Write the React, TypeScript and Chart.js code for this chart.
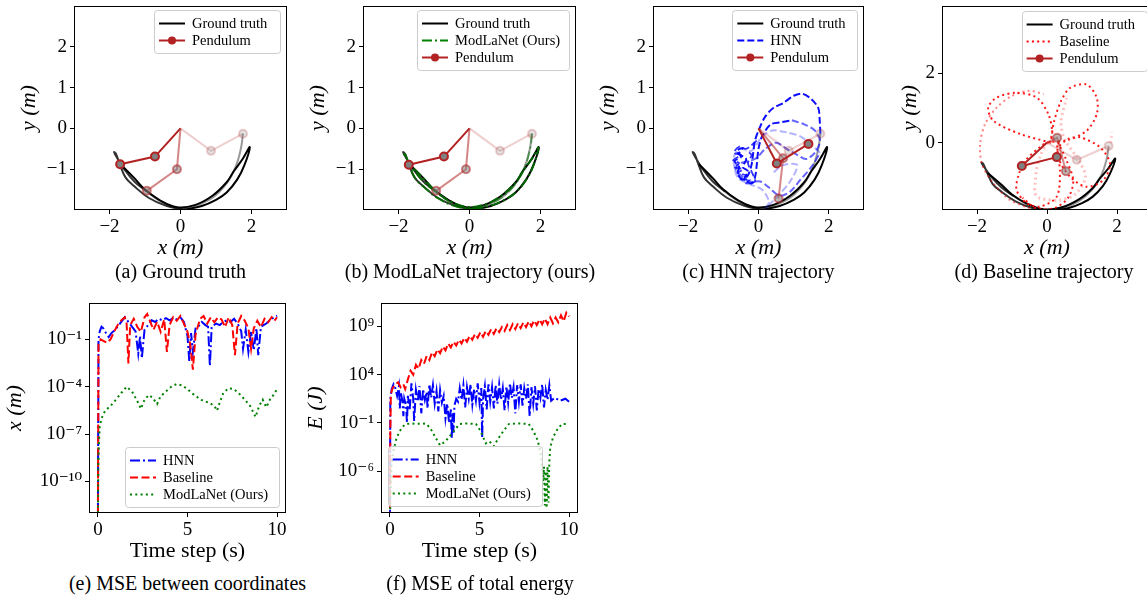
import React, { useEffect, useRef } from 'react';
import { Chart, registerables } from 'chart.js';
Chart.register(...registerables);

type P = [number, number];

// ---------------- Trajectory data (metres) ----------------
const gtTrajLight: P[] = [[1.76,-0.13],[1.7,-0.5],[1.55,-0.95],[1.3,-1.35],[0.9,-1.7],[0.4,-1.9],[-0.1,-1.95],[-0.55,-1.8],[-0.95,-1.55]];
const gtTrajMid: P[] = [[-0.95,-1.55],[-1.3,-1.3],[-1.6,-0.98],[-1.8,-0.7],[-1.87,-0.58],[-1.82,-0.62],[-1.72,-0.85],[-1.55,-1.2],[-1.3,-1.42],[-0.9,-1.7],[-0.4,-1.9],[0.1,-1.99]];
const gtTrajDark: P[] = [[0.1,-1.99],[0.6,-1.9],[1.0,-1.75],[1.3,-1.57],[1.6,-1.25],[1.8,-0.9],[1.95,-0.46],[1.75,-0.75],[1.5,-1.05],[1.3,-1.32],[0.9,-1.65],[0.4,-1.88],[-0.1,-1.93],[-0.6,-1.75],[-1.0,-1.5],[-1.3,-1.22],[-1.55,-1.0],[-1.7,-0.88]];

const modlaTrajLight: P[] = [[1.76,-0.13],[1.71,-0.49],[1.56,-0.94],[1.31,-1.34],[0.91,-1.69],[0.41,-1.9],[-0.09,-1.95],[-0.54,-1.81],[-0.94,-1.56]];
const modlaTrajMid: P[] = [[-0.94,-1.56],[-1.29,-1.31],[-1.59,-0.99],[-1.79,-0.71],[-1.86,-0.59],[-1.81,-0.63],[-1.71,-0.86],[-1.54,-1.21],[-1.29,-1.43],[-0.89,-1.71],[-0.39,-1.91],[0.11,-1.98]];
const modlaTrajDark: P[] = [[0.11,-1.98],[0.61,-1.89],[1.01,-1.74],[1.31,-1.56],[1.61,-1.24],[1.81,-0.89],[1.94,-0.47],[1.76,-0.74],[1.51,-1.04],[1.31,-1.31],[0.91,-1.64],[0.41,-1.87],[-0.09,-1.92],[-0.59,-1.76],[-0.99,-1.51],[-1.29,-1.23],[-1.54,-1.01],[-1.71,-0.89]];

const hnnTrajDark: P[] = [[1.76,-0.13],[1.74,0.2],[1.7,0.5],[1.5,0.72],[1.25,0.85],[1.0,0.8],[0.7,0.62],[0.42,0.5],[0.2,0.3],[0.05,0.05],[-0.1,-0.3],[-0.15,-0.6],[-0.2,-0.9],[-0.3,-1.15],[-0.45,-1.25],[-0.6,-1.1],[-0.55,-0.95],[-0.68,-0.8],[-0.5,-0.7],[-0.62,-0.55],[-0.45,-0.48],[-0.55,-0.62],[-0.35,-0.75],[-0.45,-0.95],[-0.3,-1.05],[-0.4,-1.25],[-0.2,-1.35],[-0.1,-1.2],[-0.05,-0.9],[0.0,-0.5],[0.1,-0.2],[0.35,0.1],[0.65,0.15],[0.95,0.2]];
const hnnTrajTangle: P[] = [[-0.05,-0.3],[-0.35,-0.5],[-0.55,-0.45],[-0.7,-0.6],[-0.5,-0.65],[-0.72,-0.78],[-0.55,-0.85],[-0.7,-0.95],[-0.45,-1.0],[-0.6,-1.1],[-0.35,-1.15],[-0.5,-1.25],[-0.25,-1.25],[-0.35,-1.35],[-0.1,-1.3],[-0.2,-1.05],[-0.3,-0.85],[-0.2,-0.65],[-0.35,-0.55]];
const hnnTrajMid: P[] = [[0.95,0.2],[1.3,0.1],[1.6,-0.05],[1.75,-0.3],[1.6,-0.6],[1.35,-0.75],[1.1,-0.65],[0.8,-0.5],[0.5,-0.35],[0.2,-0.5],[-0.1,-0.75],[-0.5,-0.85],[-0.65,-1.0],[-0.5,-1.15],[-0.25,-1.3],[0.05,-1.3],[0.3,-1.45],[0.6,-1.65],[0.9,-1.55],[1.2,-1.25],[1.5,-0.95],[1.75,-0.6]];
const hnnTrajLight: P[] = [[1.75,-0.6],[1.5,-0.4],[1.2,-0.2],[0.8,-0.1],[0.4,-0.05],[0.1,-0.2],[-0.2,-0.55],[-0.5,-0.5],[-0.7,-0.7],[-0.6,-1.2],[-0.3,-1.35],[0.1,-1.5],[0.3,-1.8],[0.2,-1.95],[0.5,-1.7],[0.9,-1.3],[1.1,-0.9],[0.7,-0.9],[0.4,-1.1]];

const baseTrajDark: P[] = [[0.1,0.0],[-0.77,0.25],[-1.53,0.63],[-1.68,1.01],[-1.44,1.3],[-0.87,1.44],[-0.29,1.3],[0.04,0.82],[0.15,0.3],[0.1,0.0],[0.2,0.6],[0.4,1.2],[0.66,1.58],[1.13,1.68],[1.42,1.3],[1.42,0.82],[1.13,0.34],[0.56,0.06],[0.0,0.0],[-0.2,-0.13],[-0.6,-0.5],[-0.8,-0.9],[-0.87,-1.37],[-0.58,-1.75],[-0.2,-1.85],[0.28,-1.56],[0.37,-0.8],[0.3,-0.2],[0.6,0.1],[0.94,0.15],[1.51,-0.13],[1.8,-0.61],[1.61,-1.08],[1.13,-1.28],[0.66,-0.99],[0.35,-0.5],[0.3,0.0],[0.55,-0.5],[0.75,-1.1],[0.6,-1.6],[0.2,-1.9],[-0.3,-1.9],[-0.7,-1.6]];
const baseTrajMid: P[] = [[-0.49,-1.9],[-1.06,-1.66],[-1.53,-1.18],[-1.85,-0.65],[-1.91,-0.04],[-1.77,0.53],[-1.44,1.01],[-1.0,1.35],[-0.5,1.5],[-0.1,1.4]];
const baseTrajLight: P[] = [[0.0,0.0],[-0.2,-0.4],[-0.3,-0.8],[-0.34,-1.2],[-0.34,-1.47],[-0.2,-1.61],[0.37,-1.66],[0.8,-1.5],[1.1,-1.0],[0.9,-0.5],[0.5,0.1],[0.4,0.6],[0.56,1.29]];
const baseTrajFaint: P[] = [[1.7,-0.3],[1.82,0.0],[1.85,0.3]];

// Pendulum snapshots: pivot, bob 1, bob 2
const pendGtDark: P[] = [[0,0],[-0.72,-0.69],[-1.7,-0.88]];
const pendGtMid: P[] = [[0,0],[-0.1,-1.0],[-0.95,-1.53]];
const pendGtLight: P[] = [[0,0],[0.86,-0.55],[1.76,-0.13]];
const pendModlaDark: P[] = [[0,0],[-0.72,-0.69],[-1.71,-0.89]];
const pendModlaMid: P[] = [[0,0],[-0.1,-1.0],[-0.94,-1.53]];
const pendModlaLight: P[] = [[0,0],[0.86,-0.55],[1.76,-0.13]];
const pendHnnDark: P[] = [[0,0],[0.52,-0.86],[1.42,-0.38]];
const pendHnnMid: P[] = [[0,0],[0.7,-0.73],[0.57,-1.72]];
const pendHnnLight: P[] = [[0,0],[0.86,-0.55],[1.76,-0.13]];
const pendBaseDark: P[] = [[0,0],[-0.72,-0.68],[0.28,-0.42]];
const pendBaseMid: P[] = [[0,0],[0.29,0.14],[0.54,-0.83]];
const pendBaseLight: P[] = [[0,0],[0.85,-0.5],[1.76,-0.1]];

// ---------------- MSE data: [time (s), value] ----------------
const coordMseHnn: P[] = [[0,1e-12],[0.03,0.1],[0.1,0.32],[0.2,0.63],[0.3,0.5],[0.45,0.25],[0.6,0.14],[0.75,0.25],[0.9,0.35],[1.1,0.63],[1.3,1.26],[1.5,2.5],[1.7,1.26],[1.9,0.63],[2.1,0.32],[2.25,0.0126],[2.35,0.16],[2.45,0.0063],[2.6,0.4],[2.8,0.8],[3.0,1.6],[3.2,1.26],[3.4,2.0],[3.6,1.6],[3.8,2.2],[4.0,1.6],[4.2,2.2],[4.4,1.8],[4.6,2.5],[4.8,1.26],[5.0,0.16],[5.1,0.004],[5.2,0.25],[5.3,0.016],[5.45,0.5],[5.6,0.63],[5.8,1.26],[6.0,0.8],[6.15,0.63],[6.25,0.002],[6.35,0.63],[6.6,1.0],[6.8,0.8],[7.0,1.26],[7.2,1.6],[7.4,1.26],[7.6,2.0],[7.8,1.0],[8.0,0.32],[8.1,0.025],[8.25,0.4],[8.4,0.016],[8.55,0.32],[8.7,0.02],[8.85,0.5],[8.95,0.01],[9.1,0.63],[9.4,1.0],[9.7,2.0],[10.0,3.2]];
const coordMseBase: P[] = [[0,1e-12],[0.03,0.05],[0.15,0.1],[0.3,0.08],[0.5,0.06],[0.7,0.1],[0.9,0.3],[1.1,0.8],[1.3,1.6],[1.5,2.5],[1.6,1.0],[1.7,0.003],[1.8,0.8],[2.0,2.0],[2.2,0.6],[2.4,0.3],[2.6,2.5],[2.75,4.0],[2.9,1.5],[3.1,0.4],[3.3,1.3],[3.5,0.3],[3.7,1.8],[3.85,0.016],[4.0,0.8],[4.2,2.5],[4.4,1.5],[4.6,3.0],[4.8,1.0],[5.0,0.3],[5.15,0.05],[5.3,0.0012],[5.45,0.2],[5.7,2.0],[5.9,3.0],[6.1,1.0],[6.3,2.5],[6.5,1.2],[6.7,2.5],[6.9,1.8],[7.1,0.6],[7.3,2.5],[7.5,0.8],[7.65,0.01],[7.8,1.0],[8.0,3.0],[8.2,1.5],[8.4,0.5],[8.55,0.025],[8.7,0.5],[8.9,1.5],[9.1,0.6],[9.3,2.0],[9.5,1.2],[9.7,2.5],[9.85,1.5],[10.0,2.5]];
const coordMseModla: P[] = [[0,1e-12],[0.02,1e-9],[0.05,2e-8],[0.1,3e-7],[0.2,1e-6],[0.4,3e-6],[0.7,6e-6],[1.0,1.5e-5],[1.3,4e-5],[1.6,1e-4],[1.9,5e-5],[2.2,1.2e-5],[2.4,4e-6],[2.6,1.5e-5],[2.85,3e-5],[3.05,2e-5],[3.3,8e-6],[3.5,2.5e-5],[3.8,5e-5],[4.1,1e-4],[4.4,1.5e-4],[4.7,1.2e-4],[5.0,7e-5],[5.3,3.5e-5],[5.6,2e-5],[5.9,1.2e-5],[6.2,1e-5],[6.5,6e-6],[6.65,3e-6],[6.8,1e-5],[7.0,4e-5],[7.3,8e-5],[7.6,7e-5],[7.9,3.5e-5],[8.2,1.5e-5],[8.5,6e-6],[8.8,1.2e-6],[9.0,6e-6],[9.2,1.5e-5],[9.4,5e-6],[9.6,1.5e-5],[9.8,3e-5],[10.0,7e-5]];

const energyMseHnn: P[] = [[0,1e-11],[0.02,32],[0.1,320],[0.2,1000],[0.3,400],[0.4,63],[0.5,630],[0.55,3.2],[0.6,160],[0.7,16],[0.75,0.5],[0.8,32],[0.9,6.3],[0.95,0.1],[1.0,63],[1.1,2],[1.2,1260],[1.3,32],[1.35,0.16],[1.45,250],[1.55,16],[1.65,630],[1.75,1],[1.85,320],[1.95,25],[2.05,160],[2.1,3.2],[2.2,1000],[2.3,40],[2.4,800],[2.5,10],[2.6,200],[2.7,1.6],[2.8,250],[2.9,12.6],[3.0,63],[3.1,0.32],[3.2,10],[3.3,0.1],[3.4,2.5],[3.45,0.003],[3.5,1],[3.55,0.01],[3.6,6.3],[3.7,32],[3.8,16],[3.9,400],[4.0,25],[4.1,800],[4.2,4],[4.3,500],[4.4,32],[4.5,1000],[4.6,8],[4.7,320],[4.8,20],[4.9,1260],[5.0,12.6],[5.1,400],[5.15,0.003],[5.2,32],[5.3,630],[5.4,2.5],[5.5,1000],[5.6,16],[5.7,500],[5.8,3.2],[5.9,800],[6.0,10],[6.1,1000],[6.2,25],[6.3,400],[6.4,2],[6.5,630],[6.6,12.6],[6.7,1260],[6.8,40],[6.9,500],[7.0,1],[7.1,800],[7.2,16],[7.3,1000],[7.4,6.3],[7.5,400],[7.6,32],[7.7,1000],[7.8,0.5],[7.9,500],[8.0,10],[8.1,630],[8.2,2],[8.3,320],[8.4,40],[8.5,1000],[8.6,4],[8.7,250],[8.8,25],[8.9,800],[9.0,20],[9.2,40],[9.5,20],[9.8,32],[10.0,16]];
const energyMseBase: P[] = [[0,1e-11],[0.02,0.01],[0.05,100],[0.15,400],[0.3,1000],[0.45,1600],[0.6,500],[0.75,1000],[0.85,320],[1.0,3200],[1.15,2.5e4],[1.3,1e4],[1.45,1e5],[1.6,4e4],[1.75,3.2e5],[1.9,1.3e5],[2.05,8e5],[2.2,3.2e5],[2.35,2e6],[2.5,8e5],[2.65,4e6],[2.8,1.6e6],[2.95,8e6],[3.1,3.2e6],[3.25,1.6e7],[3.4,6.3e6],[3.55,2.5e7],[3.7,1e7],[3.85,4e7],[4.0,1.6e7],[4.15,6.3e7],[4.3,2.5e7],[4.45,1e8],[4.6,4e7],[4.75,1.6e8],[4.9,6.3e7],[5.05,2.5e8],[5.2,8e7],[5.35,3.2e8],[5.5,1.3e8],[5.65,5e8],[5.8,1.6e8],[5.95,6.3e8],[6.1,2.5e8],[6.25,8e8],[6.4,3.2e8],[6.55,1.3e9],[6.7,4e8],[6.85,1.6e9],[7.0,5e8],[7.15,2e9],[7.3,6.3e8],[7.45,2.5e9],[7.6,8e8],[7.75,3.2e9],[7.9,1e9],[8.05,4e9],[8.2,1.3e9],[8.35,5e9],[8.5,1.6e9],[8.65,6.3e9],[8.8,1.6e9],[8.95,8e9],[9.1,2e9],[9.25,8e9],[9.4,2.5e9],[9.55,1.3e10],[9.7,3.2e9],[9.85,2.5e10],[10.0,1e10]];
const energyMseModla: P[] = [[0,1e-11],[0.05,1e-7],[0.1,1e-5],[0.2,1.6e-4],[0.35,2e-3],[0.5,0.01],[0.7,0.04],[0.9,0.08],[1.2,0.09],[1.5,0.08],[1.8,0.09],[2.05,0.08],[2.3,0.02],[2.55,3e-3],[2.8,5e-4],[3.1,1.3e-3],[3.4,6e-3],[3.7,0.03],[3.9,0.08],[4.3,0.09],[4.8,0.08],[5.05,0.016],[5.35,8e-4],[5.55,1.3e-3],[5.8,4e-4],[6.05,2.5e-3],[6.35,0.016],[6.65,0.08],[7.2,0.09],[7.75,0.08],[8.0,0.016],[8.25,1.6e-3],[8.45,3e-5],[8.55,1e-7],[8.6,3e-6],[8.65,3e-10],[8.7,1e-6],[8.75,1.6e-10],[8.8,3e-6],[8.85,6e-10],[8.9,1e-5],[8.95,3e-4],[9.1,3e-3],[9.3,0.016],[9.6,0.08],[10.0,0.08]];

// ---------------- Ticks & labels ----------------
const trajXTicks = [-2, 0, 2];
const trajYTicks = [-1, 0, 1, 2];
const baseYTicks = [0, 2];
const timeTicks = [0, 5, 10];
const coordMseTicks = [1e-10, 1e-7, 1e-4, 1e-1];
const energyMseTicks = [1e-6, 1e-1, 1e4, 1e9];
const captions = ['(a) Ground truth', '(b) ModLaNet trajectory (ours)', '(c) HNN trajectory', '(d) Baseline trajectory', '(e) MSE between coordinates', '(f) MSE of total energy'];

// ---------------- Styling helpers ----------------
const SERIF = '"Liberation Serif", "DejaVu Serif", serif';
const RED_P = (a: number) => `rgba(178,34,34,${a})`;
const SUP: Record<string, string> = { '-': '⁻', '0': '⁰', '1': '¹', '2': '²', '3': '³', '4': '⁴', '5': '⁵', '6': '⁶', '7': '⁷', '8': '⁸', '9': '⁹' };
const powLabel = (v: number) => '10' + String(Math.round(Math.log10(v))).split('').map((c) => SUP[c]).join('');
const numLabel = (v: number) => (v < 0 ? '−' + Math.abs(v) : String(v));

const DASH = { solid: [] as number[], dashed: [7, 3], dashdot: [10, 3, 2, 3], dotted: [2, 3.3], dashedLong: [8, 3.5] };

function line(points: P[], color: string, width: number, dash: number[], tension = 0.4): any {
  return {
    data: points.map(([x, y]) => ({ x, y })),
    showLine: true, borderColor: color, backgroundColor: color, borderWidth: width,
    borderDash: dash, pointRadius: 0, tension, fill: false, clip: 0,
  };
}
function pendulum(points: P[], alpha: number): any {
  return {
    data: points.map(([x, y]) => ({ x, y })),
    showLine: true, borderColor: RED_P(alpha), borderWidth: 2, tension: 0,
    pointRadius: [0, 4, 4], pointBackgroundColor: `rgba(128,128,128,${alpha})`,
    pointBorderColor: RED_P(alpha), pointBorderWidth: 2,
  };
}

type LegItem = { label: string; color: string; dash: number[]; width: number; marker?: boolean };
type LegSpec = { items: LegItem[]; width: number; corner: 'tr' | 'br' | 'bl'; dx: number; dy: number };

function legendPlugin(spec: LegSpec) {
  return {
    id: 'mplLegend',
    afterDraw(chart: any) {
      const { ctx, chartArea: a } = chart;
      const rowH = 17, pad = 13;
      const h = pad * 2 + rowH * (spec.items.length - 1);
      const w = spec.width;
      const x = spec.corner === 'bl' ? a.left + spec.dx : a.right - spec.dx - w;
      const y = spec.corner === 'tr' ? a.top + spec.dy : a.bottom - spec.dy - h;
      ctx.save();
      ctx.beginPath();
      ctx.roundRect(Math.round(x) + 0.5, Math.round(y) + 0.5, Math.round(w), Math.round(h), 3);
      ctx.fillStyle = 'rgba(255,255,255,0.8)';
      ctx.fill();
      ctx.strokeStyle = '#cccccc';
      ctx.lineWidth = 1;
      ctx.stroke();
      spec.items.forEach((it, i) => {
        const cy = Math.round(y + pad + i * rowH) + 0.5;
        ctx.beginPath();
        ctx.setLineDash(it.dash);
        ctx.strokeStyle = it.color;
        ctx.lineWidth = it.width;
        ctx.moveTo(x + 5, cy);
        ctx.lineTo(x + 31, cy);
        ctx.stroke();
        ctx.setLineDash([]);
        if (it.marker) {
          ctx.beginPath();
          ctx.arc(x + 18, cy, 4, 0, Math.PI * 2);
          ctx.fillStyle = it.color;
          ctx.fill();
        }
        ctx.fillStyle = '#000';
        ctx.font = `14.5px ${SERIF}`;
        ctx.textBaseline = 'middle';
        ctx.textAlign = 'left';
        ctx.fillText(it.label, x + 38, cy + 0.5);
      });
      ctx.restore();
    },
  };
}

const framePlugin = {
  id: 'frame',
  afterDraw(chart: any) {
    const { ctx, chartArea: a } = chart;
    ctx.save();
    ctx.strokeStyle = '#000';
    ctx.lineWidth = 1;
    const l = Math.round(a.left) + 0.5, t = Math.round(a.top) + 0.5;
    ctx.strokeRect(l, t, Math.round(a.right) - Math.round(a.left) - 1, Math.round(a.bottom) - Math.round(a.top) - 1);
    ctx.restore();
  },
};

function axis(dir: 'x' | 'y', opts: { type: string; min: number; max: number; ticks: number[]; fmt: (v: number) => string; title: string; italic: boolean; size: number; titlePad: number }): any {
  return {
    type: opts.type,
    position: dir === 'x' ? 'bottom' : 'left',
    min: opts.min,
    max: opts.max,
    afterBuildTicks: (s: any) => { s.ticks = opts.ticks.map((v) => ({ value: v })); },
    afterFit: dir === 'y'
      ? (s: any) => { s.width = opts.size; s.paddingTop = 0; s.paddingBottom = 0; }
      : (s: any) => { s.height = opts.size; s.paddingLeft = 0; s.paddingRight = 0; },
    grid: { display: true, drawOnChartArea: false, drawTicks: true, tickLength: 4, color: '#000', lineWidth: 1 },
    border: { display: false },
    ticks: {
      autoSkip: false, maxRotation: 0, minRotation: 0, color: '#000',
      padding: dir === 'y' ? 3 : 2,
      font: { family: SERIF, size: 19 },
      callback: (v: any) => opts.fmt(Number(v)),
    },
    title: {
      display: true, text: opts.title, color: '#000',
      font: { family: SERIF, size: 22, style: opts.italic ? 'italic' : 'normal' },
      padding: dir === 'y' ? { top: opts.titlePad, bottom: 0 } : { top: 0, bottom: opts.titlePad },
    },
  };
}

type PanelSpec = { left: number; top: number; w: number; h: number; config: any };

function panel(plotLeft: number, plotTop: number, plotW: number, plotH: number, yw: number, xh: number, padTop: number, padRight: number,
  datasetsBottomToTop: any[], scales: any, leg: LegSpec): PanelSpec {
  const w = Math.round(yw + plotW + padRight);
  const h = Math.round(padTop + plotH + xh);
  const datasets = datasetsBottomToTop.map((d, i) => ({ ...d, order: datasetsBottomToTop.length - i }));
  return {
    left: plotLeft - yw, top: plotTop - padTop, w, h,
    config: {
      type: 'scatter',
      data: { datasets },
      options: {
        animation: false, responsive: false, maintainAspectRatio: false, events: [],
        layout: { padding: { top: padTop, right: padRight, left: 0, bottom: 0 } },
        plugins: { legend: { display: false }, tooltip: { enabled: false } },
        scales,
      },
      plugins: [legendPlugin(leg), framePlugin],
    },
  };
}

const TOP = { yw: 70, xh: 54, padTop: 3, padRight: 14, plotTop: 3, plotH: 207 };
const BOT = { yw: 88, xh: 54, padTop: 10, padRight: 14, plotTop: 303, plotH: 210 };

function trajScales(yMin: number, yMax: number, yTicks: number[], yTitlePad: number) {
  return {
    x: axis('x', { type: 'linear', min: -3, max: 3, ticks: trajXTicks, fmt: numLabel, title: 'x (m)', italic: true, size: TOP.xh, titlePad: 2.8 }),
    y: axis('y', { type: 'linear', min: yMin, max: yMax, ticks: yTicks, fmt: numLabel, title: 'y (m)', italic: true, size: TOP.yw, titlePad: yTitlePad }),
  };
}

const gtLeg: LegItem = { label: 'Ground truth', color: '#000', dash: DASH.solid, width: 2 };
const pendLeg: LegItem = { label: 'Pendulum', color: RED_P(1), dash: DASH.solid, width: 2, marker: true };

const gtSets = () => [
  line(gtTrajLight, 'rgba(0,0,0,0.4)', 2, DASH.solid),
  line(gtTrajMid, 'rgba(0,0,0,0.8)', 2, DASH.solid),
  line(gtTrajDark, 'rgba(0,0,0,1)', 2, DASH.solid),
];

const panels: PanelSpec[] = [
  panel(74.3, TOP.plotTop, 212.5, TOP.plotH, TOP.yw, TOP.xh, TOP.padTop, TOP.padRight,
    [...gtSets(), pendulum(pendGtLight, 0.22), pendulum(pendGtMid, 0.55), pendulum(pendGtDark, 1)],
    trajScales(-2, 3, trajYTicks, 11.8),
    { items: [gtLeg, pendLeg], width: 126, corner: 'tr', dx: 7, dy: 4 }),
  panel(362.8, TOP.plotTop, 213, TOP.plotH, TOP.yw, TOP.xh, TOP.padTop, TOP.padRight,
    [...gtSets(),
      line(modlaTrajLight, 'rgba(0,128,0,0.5)', 2, DASH.dashdot),
      line(modlaTrajMid, 'rgba(0,110,0,0.9)', 2, DASH.dashdot),
      line(modlaTrajDark, 'rgba(0,100,0,1)', 2, DASH.dashdot),
      pendulum(pendModlaLight, 0.22), pendulum(pendModlaMid, 0.55), pendulum(pendModlaDark, 1)],
    trajScales(-2, 3, trajYTicks, 11.8),
    { items: [gtLeg, { label: 'ModLaNet (Ours)', color: '#008000', dash: DASH.dashdot, width: 2 }, pendLeg], width: 152, corner: 'tr', dx: 7, dy: 4 }),
  panel(652.8, TOP.plotTop, 211.2, TOP.plotH, TOP.yw, TOP.xh, TOP.padTop, TOP.padRight,
    [...gtSets(),
      line(hnnTrajLight, 'rgba(0,0,255,0.3)', 2, DASH.dashed, 0.3),
      line(hnnTrajMid, 'rgba(0,0,255,0.6)', 2, DASH.dashed, 0.3),
      line(hnnTrajTangle, 'rgba(0,0,255,0.8)', 1.8, DASH.dashed, 0.3),
      line(hnnTrajDark, 'rgba(0,0,255,0.95)', 2, DASH.dashed, 0.3),
      pendulum(pendHnnLight, 0.22), pendulum(pendHnnMid, 0.55), pendulum(pendHnnDark, 1)],
    trajScales(-2, 3, trajYTicks, 11.8),
    { items: [gtLeg, { label: 'HNN', color: '#0000ff', dash: DASH.dashed, width: 2 }, pendLeg], width: 125, corner: 'tr', dx: 6.7, dy: 4 }),
  panel(941.7, TOP.plotTop, 210, TOP.plotH, TOP.yw, TOP.xh, TOP.padTop, TOP.padRight,
    [...gtSets(),
      line(baseTrajFaint, 'rgba(255,0,0,0.2)', 3, DASH.dotted, 0.3),
      line(baseTrajLight, 'rgba(255,0,0,0.25)', 3, DASH.dotted, 0.3),
      line(baseTrajMid, 'rgba(255,0,0,0.5)', 2, DASH.dotted, 0.3),
      line(baseTrajDark, 'rgba(255,0,0,0.9)', 2, DASH.dotted, 0.3),
      pendulum(pendBaseLight, 0.22), pendulum(pendBaseMid, 0.55), pendulum(pendBaseDark, 1)],
    trajScales(-1.95, 3.95, baseYTicks, 25),
    { items: [gtLeg, { label: 'Baseline', color: '#ff0000', dash: DASH.dotted, width: 2 }, pendLeg], width: 125, corner: 'tr', dx: 5.4, dy: 5.3 }),
  panel(89, BOT.plotTop, 197, BOT.plotH, BOT.yw, BOT.xh, BOT.padTop, BOT.padRight,
    [line(coordMseHnn, '#0000ff', 2, DASH.dashdot, 0),
      line(coordMseBase, '#ff0000', 2, DASH.dashedLong, 0),
      line(coordMseModla, '#008000', 2, DASH.dotted, 0)],
    {
      x: axis('x', { type: 'linear', min: -0.5, max: 10.5, ticks: timeTicks, fmt: numLabel, title: 'Time step (s)', italic: false, size: BOT.xh, titlePad: 2.8 }),
      y: axis('y', { type: 'logarithmic', min: 1e-12, max: 20, ticks: coordMseTicks, fmt: powLabel, title: 'x (m)', italic: true, size: BOT.yw, titlePad: 0.8 }),
    },
    { items: [
      { label: 'HNN', color: '#0000ff', dash: DASH.dashdot, width: 2 },
      { label: 'Baseline', color: '#ff0000', dash: DASH.dashedLong, width: 2 },
      { label: 'ModLaNet (Ours)', color: '#008000', dash: DASH.dotted, width: 2 }], width: 154, corner: 'br', dx: 7, dy: 5.7 }),
  panel(381, BOT.plotTop, 197, BOT.plotH, BOT.yw, BOT.xh, BOT.padTop, BOT.padRight,
    [line(energyMseHnn, '#0000ff', 2, DASH.dashdot, 0),
      line(energyMseBase, '#ff0000', 2, DASH.dashedLong, 0),
      line(energyMseModla, '#008000', 2, DASH.dotted, 0)],
    {
      x: axis('x', { type: 'linear', min: -0.5, max: 10.5, ticks: timeTicks, fmt: numLabel, title: 'Time step (s)', italic: false, size: BOT.xh, titlePad: 2.8 }),
      y: axis('y', { type: 'logarithmic', min: 5e-11, max: 2.5e11, ticks: energyMseTicks, fmt: powLabel, title: 'E (J)', italic: true, size: BOT.yw, titlePad: 10.5 }),
    },
    { items: [
      { label: 'HNN', color: '#0000ff', dash: DASH.dashdot, width: 2 },
      { label: 'Baseline', color: '#ff0000', dash: DASH.dashedLong, width: 2 },
      { label: 'ModLaNet (Ours)', color: '#008000', dash: DASH.dotted, width: 2 }], width: 154, corner: 'bl', dx: 6.7, dy: 6.7 }),
];

const captionPos: [number, number][] = [[180.5, 271], [470, 271], [758.4, 271], [1044, 271], [187.5, 583], [480, 583]];

function ChartCanvas({ spec }: { spec: PanelSpec }) {
  const ref = useRef<HTMLCanvasElement>(null);
  useEffect(() => {
    const chart = new Chart(ref.current as HTMLCanvasElement, spec.config);
    return () => chart.destroy();
  }, [spec]);
  return (
    <canvas ref={ref} width={spec.w} height={spec.h}
      style={{ position: 'absolute', left: spec.left, top: spec.top, width: spec.w, height: spec.h }} />
  );
}

export default function App() {
  return (
    <div style={{ position: 'fixed', left: 0, top: 0, width: 1147, height: 601, overflow: 'hidden', background: '#fff' }}>
      {panels.map((p, i) => <ChartCanvas key={i} spec={p} />)}
      {captions.map((c, i) => (
        <div key={c} style={{
          position: 'absolute', left: captionPos[i][0], top: captionPos[i][1], transform: 'translate(-50%, -50%)',
          fontFamily: SERIF, fontSize: 20, lineHeight: '22px', color: '#000', whiteSpace: 'nowrap',
        }}>{c}</div>
      ))}
    </div>
  );
}
